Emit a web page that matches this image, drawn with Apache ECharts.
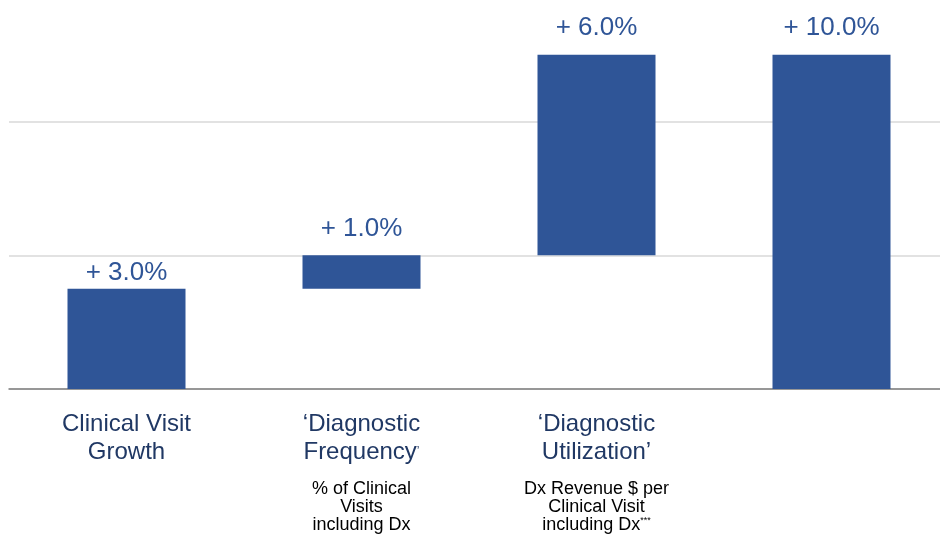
<!DOCTYPE html>
<html>
	<head>
		<meta charset="utf-8">
		<title></title>
		<script src="https://cdn.jsdelivr.net/npm/echarts@6/dist/echarts.min.js"></script>
		<style>
			html, body { margin: 0; padding: 0; background: #fff; }
			#main { width: 940px; height: 535px; }
		</style>
	</head>
	<body>
		<div id="main"></div>
		<script>
			// 瀑布图数据
			var categories = ['Clinical Visit Growth', 'Diagnostic Frequency', 'Diagnostic Utilization', 'Total'];
			var baseValues = [0, 3, 4, 0]; // 透明的底座
			var growthValues = [3, 1, 6, 10];
			var valueLabels = ['+ 3.0%', '+ 1.0%', '+ 6.0%', '+ 10.0%'];
			var yTicks = [0, 4, 8, 12];

			// x轴标签（富文本）
			var axisTexts = [
				'{a|Clinical Visit}\n{a|Growth}',
				'{a|‘Diagnostic}\n{a|Frequency}{s|’}\n{sp| }\n{b|% of Clinical}\n{b|Visits}\n{b|including Dx}',
				'{a|‘Diagnostic}\n{a|Utilization’}\n{sp| }\n{b|Dx Revenue $ per}\n{b|Clinical Visit}\n{b|including Dx}{t|***}',
				''
			];

			var font = "'Liberation Sans', Arial, sans-serif";
			var chartDom = document.getElementById('main');
			var myChart = echarts.init(chartDom);

			// 第一个柱子的标签离柱子更近
			var barData = growthValues.map(function(v, i) {
				return i === 0 ? { value: v, label: { distance: 3 } } : v;
			});

			var option = {
				animation: false,
				grid: { left: 9, width: 940, top: -12, bottom: 146, containLabel: false, outerBoundsMode: 'none' },
				xAxis: {
					type: 'category',
					data: categories,
					axisTick: { show: false },
					axisLine: { lineStyle: { color: '#7f7f7f', width: 1.5 } },
					axisLabel: {
						interval: 0,
						margin: 21,
						verticalAlign: 'top',
						formatter: function(v, i) { return axisTexts[i]; },
						rich: {
							a: { fontFamily: font, fontSize: 24, lineHeight: 28, color: '#203864' },
							s: { fontFamily: font, fontSize: 12, lineHeight: 28, color: '#203864', verticalAlign: 'middle' },
							sp: { fontSize: 10, lineHeight: 14 },
							b: { fontFamily: font, fontSize: 18, lineHeight: 18, color: '#000' },
							t: { fontFamily: font, fontSize: 9, lineHeight: 18, color: '#000', verticalAlign: 'top' }
						}
					}
				},
				yAxis: {
					type: 'value',
					min: yTicks[0],
					max: yTicks[yTicks.length - 1],
					interval: 4,
					axisLabel: { show: false },
					axisLine: { show: false },
					axisTick: { show: false },
					splitLine: { lineStyle: { color: '#d9d9d9', width: 1.5 } }
				},
				series: [{
					type: 'bar',
					stack: 'w',
					data: baseValues,
					barWidth: 118,
					itemStyle: { color: 'transparent' },
					emphasis: { disabled: true }
				}, {
					type: 'bar',
					stack: 'w',
					data: barData,
					barWidth: 118,
					itemStyle: { color: '#2f5597' },
					label: {
						show: true,
						position: 'top',
						distance: 14,
						fontFamily: font,
						fontSize: 26,
						color: '#2f5597',
						formatter: function(p) { return valueLabels[p.dataIndex]; }
					}
				}]
			};
			myChart.setOption(option);
		</script>
	</body>
</html>
